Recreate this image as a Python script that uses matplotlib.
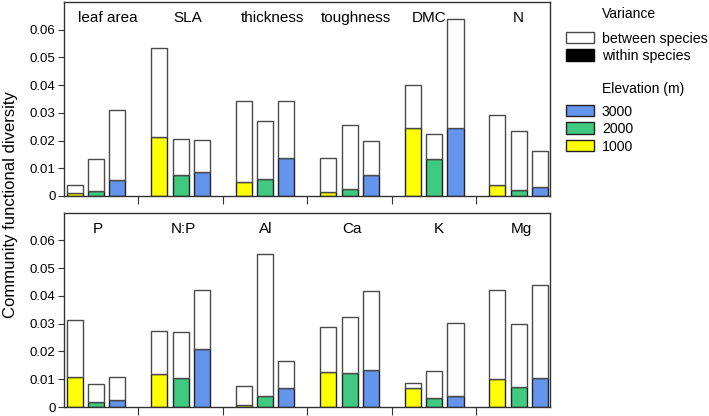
import numpy as np
import matplotlib
matplotlib.use("Agg")
import matplotlib.pyplot as plt
from matplotlib.patches import Patch

plt.rcParams['font.family'] = ['Liberation Sans', 'DejaVu Sans']

elevations = ["1000", "2000", "3000"]
colors = ["#FFFF00", "#40C980", "#6495ED"]

# top panel: total variance (top of bar) and within-species part, per elevation
traits_top = ["leaf area", "SLA", "thickness", "toughness", "DMC", "N"]
total_top = [
    [0.0041, 0.0535, 0.0343, 0.0137, 0.0401, 0.0293],   # 1000
    [0.0135, 0.0206, 0.0269, 0.0255, 0.0224, 0.0234],   # 2000
    [0.0311, 0.0201, 0.0341, 0.0198, 0.0638, 0.0162],   # 3000
]
within_top = [
    [0.0011, 0.0212, 0.0049, 0.0013, 0.0244, 0.0040],
    [0.0019, 0.0075, 0.0063, 0.0024, 0.0135, 0.0022],
    [0.0059, 0.0088, 0.0138, 0.0076, 0.0246, 0.0034],
]

traits_bot = ["P", "N:P", "Al", "Ca", "K", "Mg"]
total_bot = [
    [0.0314, 0.0273, 0.0076, 0.0289, 0.0085, 0.0423],
    [0.0082, 0.0272, 0.0553, 0.0323, 0.0130, 0.0299],
    [0.0107, 0.0420, 0.0165, 0.0418, 0.0301, 0.0439],
]
within_bot = [
    [0.0107, 0.0118, 0.0006, 0.0125, 0.0067, 0.0101],
    [0.0018, 0.0103, 0.0041, 0.0121, 0.0034, 0.0072],
    [0.0025, 0.0209, 0.0067, 0.0135, 0.0041, 0.0106],
]

# label x offsets (the labels are not exactly centred on the groups)
label_x_top = [0.14, 1.08, 2.09, 3.07, 3.94, 4.99]
label_x_bot = [0.02, 1.03, 2.01, 3.03, 4.05, 5.03]

W, H = 709, 416
fig = plt.figure(figsize=(W / 100, H / 100), dpi=100)

def panel(rect, traits, total, within, label_x):
    ax = fig.add_axes(rect)
    x = np.arange(len(traits))
    for i in range(3):
        tot = np.array(total[i])
        wi = np.array(within[i])
        xs = x + (i - 1) * 0.252
        ax.bar(xs, wi, width=0.19, color=colors[i], edgecolor='#222222', lw=1.0, zorder=2)
        ax.bar(xs, tot - wi, bottom=wi, width=0.19, color='white', edgecolor='#4a4a4a', lw=1.0, zorder=2)
    for t, lx in zip(traits, label_x):
        ax.text(lx, 0.0642, t, ha='center', va='center', fontsize=11)
    ax.set_xlim(-0.38, 5.37)
    ax.set_ylim(0, 0.070)
    ax.set_yticks([0, 0.01, 0.02, 0.03, 0.04, 0.05, 0.06])
    ax.set_yticklabels(["0", "0.01", "0.02", "0.03", "0.04", "0.05", "0.06"], fontsize=9.5)
    ax.set_xticks(np.arange(len(traits) - 1) + 0.5)
    ax.set_xticklabels([])
    ax.tick_params(axis='x', direction='out', length=6, color='#333333')
    ax.tick_params(axis='y', direction='out', length=4, color='#333333', pad=2)
    for s in ax.spines.values():
        s.set_color('#333333')
        s.set_linewidth(1.0)
    return ax

panel([64 / W, 1 - 196 / H, 486 / W, 194 / H], traits_top, total_top, within_top, label_x_top)
panel([64 / W, 1 - 407 / H, 486 / W, 194.3 / H], traits_bot, total_bot, within_bot, label_x_bot)

fig.text(11 / W, 1 - 205 / H, "Community functional diversity", rotation=90,
         ha='center', va='center', fontsize=12)

# legend
fig.text(601.5 / W, 1 - 14 / H, "Variance", ha='left', va='center', fontsize=10)
fig.text(601.5 / W, 1 - 89.3 / H, "Elevation (m)", ha='left', va='center', fontsize=10)
var_handles = [Patch(facecolor='white', edgecolor='#4a4a4a', lw=1.0),
               Patch(facecolor='black', edgecolor='black', lw=1.0)]
fig.legend(var_handles, ["between species", "within species"], loc='upper left',
           bbox_to_anchor=(565.7 / W, 1 - 31.5 / H), frameon=False, fontsize=10.2,
           borderpad=0, borderaxespad=0, handlelength=2.0, handleheight=0.88,
           labelspacing=0.25, handletextpad=0.55)
elev_handles = [Patch(facecolor=colors[i], edgecolor='#222222', lw=1.0) for i in (2, 1, 0)]
fig.legend(elev_handles, [elevations[i] for i in (2, 1, 0)], loc='upper left',
           bbox_to_anchor=(565.7 / W, 1 - 104.5 / H), frameon=False, fontsize=10.2,
           borderpad=0, borderaxespad=0, handlelength=2.0, handleheight=0.88,
           labelspacing=0.25, handletextpad=0.55)

fig.savefig("out.png", dpi=100)
